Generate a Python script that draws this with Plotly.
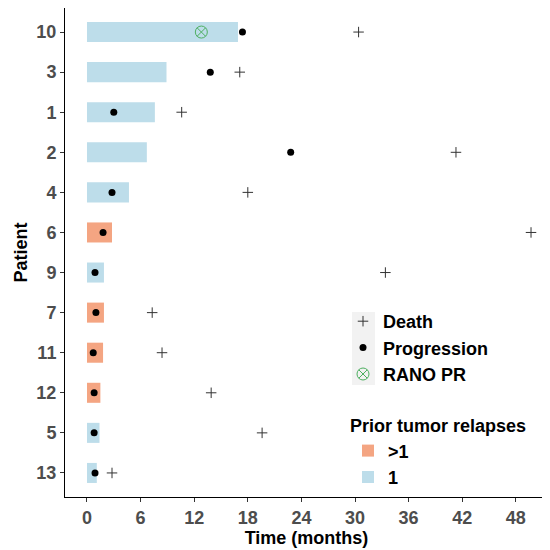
import plotly.graph_objects as go

patients = ["10", "3", "1", "2", "4", "6", "9", "7", "11", "12", "5", "13"]
duration = [16.9, 8.9, 7.6, 6.7, 4.7, 2.8, 1.9, 1.9, 1.8, 1.5, 1.4, 1.1]
relapses = ["1", "1", "1", "1", "1", ">1", "1", ">1", ">1", ">1", "1", "1"]
progression = [17.4, 13.8, 3.0, 22.8, 2.8, 1.8, 0.9, 1.0, 0.7, 0.8, 0.8, 0.9]
death = [30.4, 17.1, 10.6, 41.3, 18.0, 49.7, 33.4, 7.3, 8.4, 13.9, 19.6, 2.8]
rano_patients = ["10"]
rano_time = [12.8]
x_ticks = [0, 6, 12, 18, 24, 30, 36, 42, 48]

colors = {">1": "#F4A582", "1": "#BDDDEA"}
FONT = "Liberation Sans"

# page offset (browser body margin) is 8px; plot area target in window px:
PX0, PX1, PY0, PY1 = 65, 548, 8, 497
W = PX1 - PX0
H = PY1 - PY0


def px(x):
    return (x - PX0) / W


def py(y):
    return (PY1 - y) / H


fig = go.Figure()

for grp in [">1", "1"]:
    ys = [p for p, r in zip(patients, relapses) if r == grp]
    xs = [d for d, r in zip(duration, relapses) if r == grp]
    fig.add_trace(go.Bar(
        x=xs, y=ys, base=0, orientation="h", width=0.5,
        marker=dict(color=colors[grp], line=dict(width=0)),
        name=grp, legend="legend2", showlegend=True,
    ))

fig.add_trace(go.Scatter(
    x=death, y=patients, mode="markers", name="Death",
    marker=dict(symbol="cross-thin-open", size=7.5, color="#333333",
                line=dict(width=1, color="#333333")),
))
fig.add_trace(go.Scatter(
    x=progression, y=patients, mode="markers", name="Progression",
    marker=dict(symbol="circle", size=7, color="black"),
))
fig.add_trace(go.Scatter(
    x=rano_time, y=rano_patients, mode="markers", name="RANO PR",
    marker=dict(symbol="circle-x-open", size=12, color="#4DAF60",
                line=dict(width=1, color="#4DAF60")),
))

LEG_FONT = dict(size=18, family=FONT, color="black", weight="bold")

fig.update_layout(
    width=542, height=542,
    margin=dict(l=57, r=2, t=0, b=53, autoexpand=False),
    paper_bgcolor="white", plot_bgcolor="white",
    barmode="overlay",
    font=dict(family=FONT, color="black"),
    showlegend=True,
    legend=dict(
        x=px(343), y=py(303), xanchor="left", yanchor="top",
        bgcolor="rgba(0,0,0,0)", font=LEG_FONT,
        itemwidth=30, tracegroupgap=0,
    ),
    legend2=dict(
        x=px(348), y=py(409), xanchor="left", yanchor="top",
        bgcolor="rgba(0,0,0,0)", font=LEG_FONT,
        title=dict(text="Prior tumor relapses", font=LEG_FONT, side="top"),
        itemwidth=30,
    ),
    shapes=[dict(type="rect", xref="paper", yref="paper",
                 x0=px(352), x1=px(375), y0=py(385), y1=py(312),
                 fillcolor="#F2F2F2", line=dict(width=0), layer="below")],
)

fig.update_xaxes(
    range=[-2.46, 51.6], tickvals=x_ticks, ticktext=[str(t) for t in x_ticks],
    showline=True, linecolor="black", linewidth=1, showgrid=False, zeroline=False,
    ticks="outside", ticklen=4, tickcolor="#333333", automargin=False,
    tickfont=dict(size=18, color="#4D4D4D", family=FONT, weight="bold"),
    title=dict(text="Time (months)", font=dict(size=18, color="black", family=FONT, weight="bold"), standoff=4),
)
fig.update_yaxes(
    type="category", categoryorder="array", categoryarray=patients[::-1],
    range=[-0.6, len(patients) - 0.4],
    showline=True, linecolor="black", linewidth=1, showgrid=False, zeroline=False,
    ticks="outside", ticklen=4, tickcolor="#333333", automargin=False,
    tickfont=dict(size=18, color="#4D4D4D", family=FONT, weight="bold"),
    title=dict(text="Patient", font=dict(size=18, color="black", family=FONT, weight="bold"), standoff=4),
)

fig.write_html("out.html")
